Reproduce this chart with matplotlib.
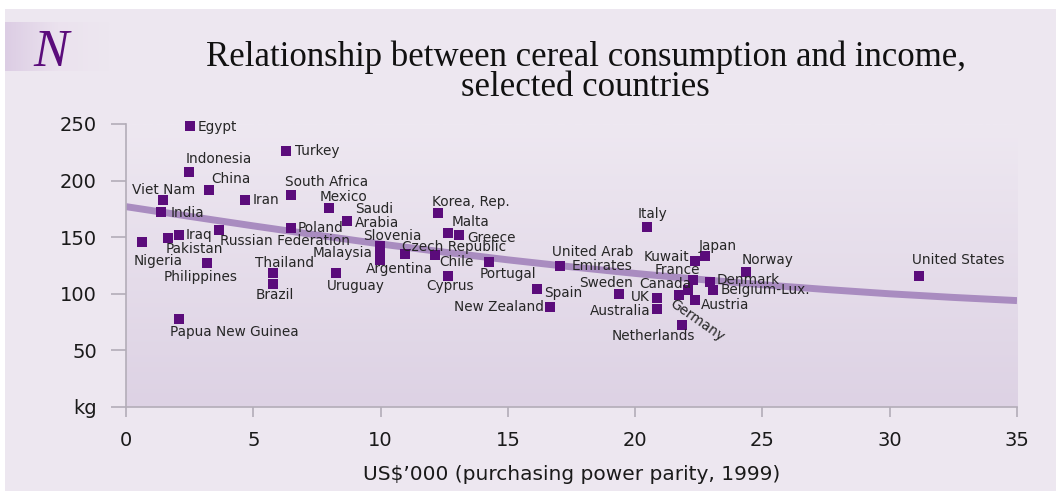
import numpy as np
import matplotlib.pyplot as plt
from matplotlib.colors import LinearSegmentedColormap
from matplotlib.patches import Rectangle

# data: income (US$'000 PPP 1999) vs cereal consumption (kg)
countries = ['Nigeria', 'Viet Nam', 'India', 'Pakistan', 'Iraq', 'Papua New Guinea',
             'Indonesia', 'Egypt', 'China', 'Philippines', 'Russian Federation', 'Iran',
             'Thailand', 'Brazil', 'Turkey', 'South Africa', 'Poland', 'Mexico', 'Uruguay',
             'Saudi Arabia', 'Slovenia', 'Malaysia', 'Argentina', 'Czech Republic', 'Chile',
             'Korea, Rep.', 'Malta', 'Cyprus', 'Greece', 'Portugal', 'Spain', 'New Zealand',
             'United Arab Emirates', 'Sweden', 'Italy', 'UK', 'Australia', 'Germany',
             'Netherlands', 'Canada', 'France', 'Kuwait', 'Austria', 'Japan', 'Denmark',
             'Belgium-Lux.', 'Norway', 'United States']
income = [0.63, 1.44, 1.39, 1.66, 2.07, 2.07,
          2.49, 2.51, 3.26, 3.17, 3.67, 4.66,
          5.76, 5.76, 6.27, 6.47, 6.47, 7.96, 8.26,
          8.67, 9.98, 9.98, 9.98, 10.96, 12.15,
          12.27, 12.66, 12.66, 13.07, 14.26, 16.14, 16.67,
          17.06, 19.35, 20.45, 20.86, 20.86, 21.73,
          21.85, 22.08, 22.26, 22.36, 22.36, 22.75, 22.96,
          23.04, 24.35, 31.16]
cereal = [146, 183, 172, 149, 152, 78,
          208, 248, 192, 127, 156, 183,
          118, 109, 226, 187, 158, 176, 118,
          164, 142, 135, 130, 135, 134,
          171, 154, 116, 152, 128, 104, 88,
          125, 100, 159, 96, 87, 99,
          72, 103, 112, 129, 94.5, 133, 110.5,
          103, 119, 116]

# trend line as drawn on the chart
trend_x = [0, 2.5, 5, 7.5, 10, 12.5, 15, 17.5, 20, 22.5, 25, 27.5, 30, 32.5, 35]
trend_y = [177, 168.4, 160, 151.9, 144, 136.8, 130, 123.8, 118, 112.8, 108, 103.8, 100, 96.8, 94]

y_ticks = [0, 50, 100, 150, 200, 250]
y_labels = ['kg', '50', '100', '150', '200', '250']
x_ticks = [0, 5, 10, 15, 20, 25, 30, 35]

# label placement: text, dx, dy (pixels), ha, rotation
labels = {
    'Nigeria': ('Nigeria', -8, -19, 'left', 0),
    'Viet Nam': ('Viet Nam', 1, 10, 'center', 0),
    'India': ('India', 9, -1, 'left', 0),
    'Pakistan': ('Pakistan', -3, -11, 'left', 0),
    'Iraq': ('Iraq', 7, 0, 'left', 0),
    'Papua New Guinea': ('Papua New Guinea', -9, -13, 'left', 0),
    'Indonesia': ('Indonesia', -4, 13, 'left', 0),
    'Egypt': ('Egypt', 8, -1, 'left', 0),
    'China': ('China', 2, 11, 'left', 0),
    'Philippines': ('Philippines', -6, -14, 'center', 0),
    'Russian Federation': ('Russian Federation', 1, -11, 'left', 0),
    'Iran': ('Iran', 8, 0, 'left', 0),
    'Thailand': ('Thailand', 12, 10, 'center', 0),
    'Brazil': ('Brazil', 2, -11, 'center', 0),
    'Turkey': ('Turkey', 9, 0, 'left', 0),
    'South Africa': ('South Africa', -6, 13, 'left', 0),
    'Poland': ('Poland', 7, 0, 'left', 0),
    'Mexico': ('Mexico', -9, 11, 'left', 0),
    'Uruguay': ('Uruguay', -9, -13, 'left', 0),
    'Saudi Arabia': ('Saudi\nArabia', 8, 5, 'left', 0),
    'Slovenia': ('Slovenia', -17, 10, 'left', 0),
    'Malaysia': ('Malaysia', -8, 1, 'right', 0),
    'Argentina': ('Argentina', -14, -9, 'left', 0),
    'Czech Republic': ('Czech Republic', -3, 7, 'left', 0),
    'Chile': ('Chile', 4, -7, 'left', 0),
    'Korea, Rep.': ('Korea, Rep.', -6, 11, 'left', 0),
    'Malta': ('Malta', 3, 11, 'left', 0),
    'Cyprus': ('Cyprus', -22, -10, 'left', 0),
    'Greece': ('Greece', 9, -3, 'left', 0),
    'Portugal': ('Portugal', -9, -12, 'left', 0),
    'Spain': ('Spain', 7, -4, 'left', 0),
    'New Zealand': ('New Zealand', -6, 0, 'right', 0),
    'Sweden': ('Sweden', -39, 11, 'left', 0),
    'Italy': ('Italy', -9, 13, 'left', 0),
    'UK': ('UK', -7, 1, 'right', 0),
    'Australia': ('Australia', -7, -2, 'right', 0),
    'Germany': ('Germany', 18, -25, 'center', -35),
    'Netherlands': ('Netherlands', -29, -11, 'center', 0),
    'Canada': ('Canada', 3, 6, 'right', 0),
    'France': ('France', 7, 10, 'right', 0),
    'Kuwait': ('Kuwait', -6, 4, 'right', 0),
    'Austria': ('Austria', 6, -5, 'left', 0),
    'Japan': ('Japan', -6, 10, 'left', 0),
    'Denmark': ('Denmark', 6, 2, 'left', 0),
    'Belgium-Lux.': ('Belgium-Lux.', 8, 0, 'left', 0),
    'Norway': ('Norway', -4, 12, 'left', 0),
    'United States': ('United States', -7, 16, 'left', 0),
}

bg = '#ede7f0'
purple = '#5b0c7b'
grey = '#b3adb8'

fig = plt.figure(figsize=(10.56, 4.91), dpi=100, facecolor='white')
fig.patches.append(Rectangle((5 / 1056, 0), 1, (491 - 9) / 491, transform=fig.transFigure,
                             facecolor=bg, edgecolor='none', zorder=-10))

# N badge
axn = fig.add_axes([5 / 1056, (491 - 71) / 491, 105 / 1056, 49 / 491])
badge = LinearSegmentedColormap.from_list('badge', ['#dccde4', '#ebe2ee', bg])
axn.imshow(np.linspace(0, 1, 100).reshape(1, -1), cmap=badge, aspect='auto', extent=[0, 1, 0, 1])
axn.axis('off')
fig.text(51 / 1056, (491 - 66) / 491, 'N', fontsize=38, family='Liberation Serif',
         style='italic', color=purple, ha='center', va='baseline')

# title
fig.text(0.5545, (491 - 66) / 491, 'Relationship between cereal consumption and income,',
         fontsize=25, family='Liberation Serif', ha='center', va='baseline', color='#111111')
fig.text(0.5545, (491 - 96) / 491, 'selected countries',
         fontsize=25, family='Liberation Serif', ha='center', va='baseline', color='#111111')

ax = fig.add_axes([126 / 1056, (491 - 407) / 491, 891 / 1056, 283 / 491])
ax.set_facecolor(bg)
grad = LinearSegmentedColormap.from_list('plotbg', ['#ddd2e4', '#eee8f1'])
ax.imshow(np.linspace(0, 1, 200).reshape(-1, 1), cmap=grad, aspect='auto',
          extent=[0, 35, 0, 250], origin='lower', zorder=0)

ax.plot(trend_x, trend_y, color='#a98cc0', lw=5, solid_capstyle='butt', zorder=2)
ax.scatter(income, cereal, marker='s', s=44, color=purple, linewidths=0, zorder=3, clip_on=False)

for name, xv, yv in zip(countries, income, cereal):
    if name == 'United Arab Emirates':
        ax.annotate('United Arab', (xv, yv), xytext=(-8, 13), textcoords='offset pixels',
                    ha='left', va='center', fontsize=9.8, color='#262626')
        ax.annotate('Emirates', (xv, yv), xytext=(11, -1), textcoords='offset pixels',
                    ha='left', va='center', fontsize=9.8, color='#262626')
        continue
    txt, dx, dy, ha, rot = labels[name]
    ax.annotate(txt, (xv, yv), xytext=(dx, dy), textcoords='offset pixels',
                ha=ha, va='center', fontsize=9.8, color='#262626', rotation=rot,
                rotation_mode='anchor', linespacing=1.0)

ax.set_xlim(0, 35)
ax.set_ylim(0, 250)
ax.set_xticks(x_ticks)
ax.set_yticks(y_ticks)
ax.set_yticklabels(y_labels)
for s in ['top', 'right']:
    ax.spines[s].set_visible(False)
for s in ['left', 'bottom']:
    ax.spines[s].set_color(grey)
    ax.spines[s].set_linewidth(1.2)
ax.tick_params(axis='y', length=11, width=1.2, color=grey, pad=10, labelsize=14, labelcolor='#1a1a1a')
ax.tick_params(axis='x', length=7, width=1.2, color=grey, pad=10, labelsize=14, labelcolor='#1a1a1a')
ax.set_xlabel('US$\u2019000 (purchasing power parity, 1999)', fontsize=14.5, color='#1a1a1a', labelpad=11)

fig.savefig('out.png', dpi=100, facecolor=fig.get_facecolor())
